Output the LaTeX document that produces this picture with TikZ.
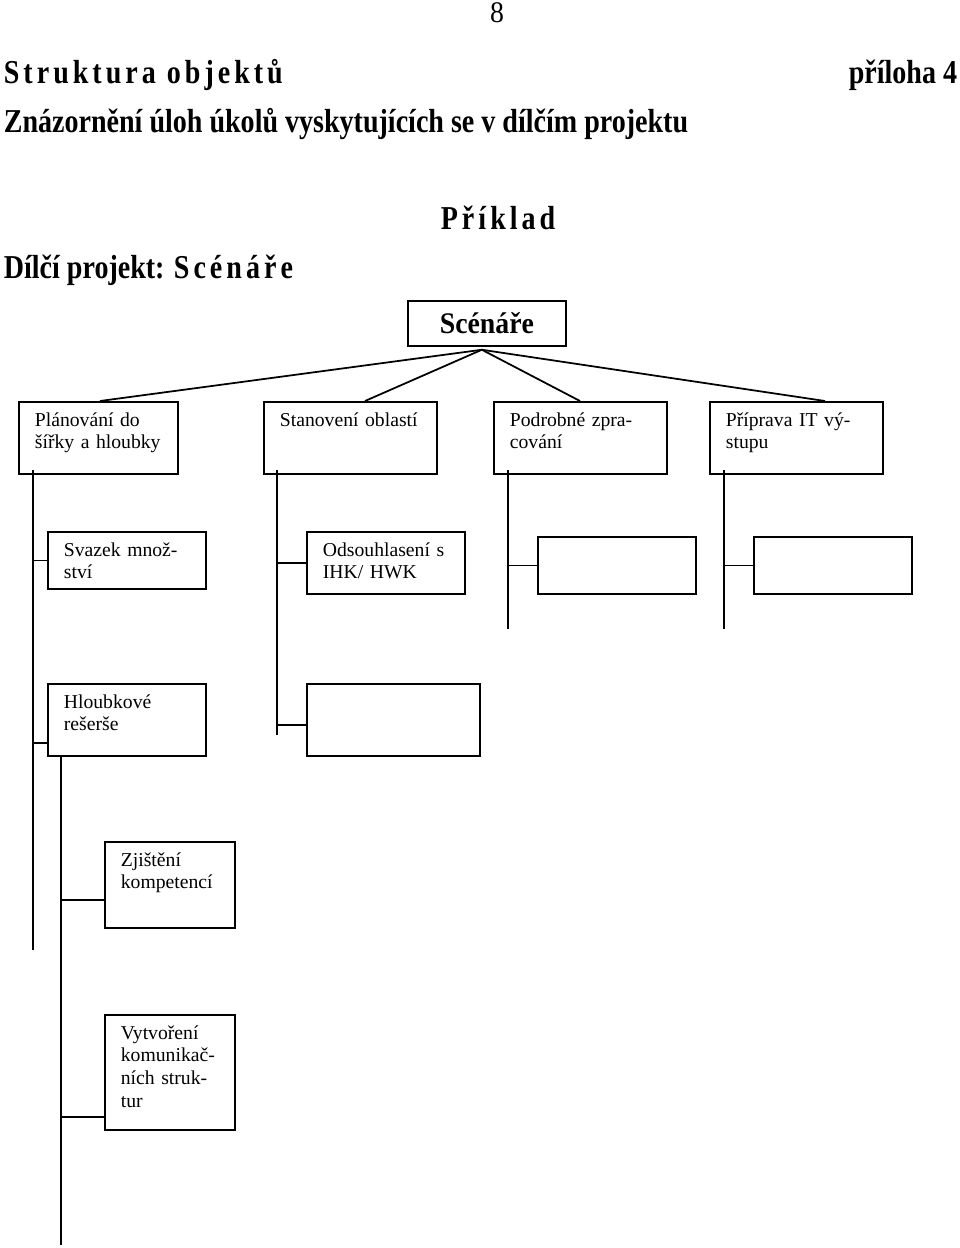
\documentclass[tikz,border=0pt]{standalone}
\usepackage{fontspec}
\setmainfont{Liberation Serif}
\newfontfamily\headfont[FakeStretch=0.84]{Liberation Serif}
\newfontfamily\spacedfont[FakeStretch=0.84,LetterSpace=12]{Liberation Serif}
\newfontfamily\titlefont[FakeStretch=0.93]{Liberation Serif}
\usetikzlibrary{calc}
\newcommand{\boxfont}{\fontsize{11.2}{13}\selectfont}
\newcommand{\headsize}{\fontsize{19}{22}\selectfont}
\newcommand{\titlesize}{\fontsize{17}{20}\selectfont}

\begin{document}
\begin{tikzpicture}
	[
	x=0.02cm, y=-0.02cm,
	line width=1pt,
	box/.style = {draw, anchor=north west, inner sep=0pt, minimum width=3.16cm},
	txt/.style = {anchor=base west, inner sep=0pt, align=left, text width=4cm, font=\boxfont},
	head/.style = {inner sep=0pt, font=\headfont\headsize\bfseries}
	]

	\useasboundingbox (0,0) rectangle (960,1248);

	% nadpisy
	\node[head, font=\titlefont\titlesize, anchor=base] (page) at (497,22) {8};
	\node[head, anchor=base west] (title) at (3,83) {\spacedfont Struktura objektů};
	\node[head, anchor=base east] (annex) at (958,83) {příloha 4};
	\node[head, anchor=base west] (subtitle) at (3,132) {Znázornění úloh úkolů vyskytujících se v dílčím projektu};
	\node[head, anchor=base west] (example) at (440,229) {\spacedfont Příklad};
	\node[head, anchor=base west] (subproject) at (3,278) {Dílčí projekt: {\spacedfont Scénáře}};

	% boxy
	\node[box, minimum height=0.9cm, font=\titlefont\titlesize\bfseries] (sc) at (407,300) {Scénáře};

	\node[box, minimum width=3.18cm, minimum height=1.44cm] (pl) at (18,401) {};
	\node[box, minimum width=3.46cm, minimum height=1.44cm] (st) at (263,401) {};
	\node[box, minimum width=3.46cm, minimum height=1.44cm] (po) at (493,401) {};
	\node[box, minimum width=3.46cm, minimum height=1.44cm] (pr) at (709,401) {};

	\node[box, minimum height=1.14cm] (sv) at (47,531) {};
	\node[box, minimum height=1.24cm] (od) at (306,531) {};
	\node[box, minimum height=1.14cm] (pe1) at (537,536) {};
	\node[box, minimum height=1.14cm] (pe2) at (753,536) {};

	\node[box, minimum height=1.44cm] (hl) at (47,683) {};
	\node[box, minimum width=3.46cm, minimum height=1.44cm] (se) at (306,683) {};

	\node[box, minimum width=2.6cm, minimum height=1.72cm] (zj) at (104,841) {};
	\node[box, minimum width=2.6cm, minimum height=2.3cm] (vy) at (104,1014) {};

	% texty v boxech
	\node[txt] (pl-t) at ($(pl.north west)+(16,25)$) {Plánování do\\šířky a hloubky};
	\node[txt] (st-t) at ($(st.north west)+(16,25)$) {Stanovení oblastí};
	\node[txt] (po-t) at ($(po.north west)+(16,25)$) {Podrobné zpra-\\cování};
	\node[txt] (pr-t) at ($(pr.north west)+(16,25)$) {Příprava IT vý-\\stupu};
	\node[txt] (sv-t) at ($(sv.north west)+(16,25)$) {Svazek množ-\\ství};
	\node[txt] (od-t) at ($(od.north west)+(16,25)$) {Odsouhlasení s\\IHK/ HWK};
	\node[txt] (hl-t) at ($(hl.north west)+(16,25)$) {Hloubkové\\rešerše};
	\node[txt] (zj-t) at ($(zj.north west)+(16,25)$) {Zjištění\\kompetencí};
	\node[txt] (vy-t) at ($(vy.north west)+(16,25)$) {Vytvoření\\komunikač-\\ních struk-\\tur};

	% spojnice
	\coordinate (@apex) at ($(sc.south)+(-5,3)$);
	\draw (@apex) -- ($(pl.north west)+(82,0)$);
	\draw (@apex) -- ($(st.north west)+(102,0)$);
	\draw (@apex) -- ($(po.north west)+(87,0)$);
	\draw (@apex) -- ($(pr.north west)+(116,0)$);

	\coordinate (@1) at ($(pl.south west)+(15,-5)$);
	\coordinate (@2) at ($(st.south west)+(14,-5)$);
	\coordinate (@3) at ($(po.south west)+(15,-5)$);
	\coordinate (@4) at ($(pr.south west)+(15,-5)$);
	\coordinate (@5) at ($(hl.south west)+(14,0)$);

	\draw (@1) -- ++(0,480);
	\draw (@2) -- ++(0,265);
	\draw (@3) -- ++(0,159);
	\draw (@4) -- ++(0,159);
	\draw (@5) -- ++(0,488);

	\draw (sv.west) -- (sv.west -| @1);
	\draw ($(hl.south west)+(0,-14)$) -- ++(-14,0);
	\draw (od.west) -- (od.west -| @2);
	\draw ($(se.south west)+(0,-32)$) -- ++(-29,0);
	\draw (pe1.west) -- (pe1.west -| @3);
	\draw (pe2.west) -- (pe2.west -| @4);
	\draw ($(zj.south west)+(0,-29)$) -- ++(-43,0);
	\draw ($(vy.south west)+(0,-14)$) -- ++(-43,0);

\end{tikzpicture}
\end{document}
